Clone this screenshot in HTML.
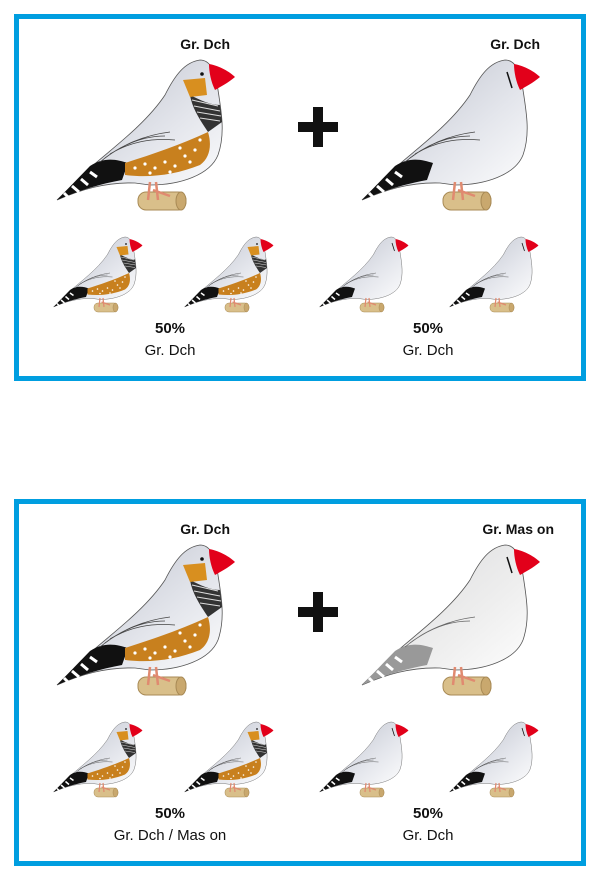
<!DOCTYPE html>
<html><head><meta charset="utf-8"><style>
body{margin:0;background:#fff;width:600px;height:881px;overflow:hidden;font-family:"Liberation Sans",sans-serif}
</style></head><body>
<svg width="600" height="881" viewBox="0 0 600 881" xmlns="http://www.w3.org/2000/svg" font-family="Liberation Sans, sans-serif">
<defs>
<linearGradient id="gb" x1="0" y1="0" x2="1" y2="1"><stop offset="0" stop-color="#b8bcc8"/><stop offset="0.6" stop-color="#e4e6ec"/><stop offset="1" stop-color="#fff"/></linearGradient>
<linearGradient id="gl" x1="0" y1="0" x2="1" y2="1"><stop offset="0" stop-color="#d8d8da"/><stop offset="0.6" stop-color="#eeeeee"/><stop offset="1" stop-color="#fff"/></linearGradient>
<g id="perch">
<rect x="88" y="142" width="48" height="18" rx="8" fill="#d9bf8a" stroke="#a88a55" stroke-width="1"/>
<ellipse cx="131" cy="151" rx="5" ry="9" fill="#c9a86e" stroke="#a88a55"/>
<path d="M100,132 L98,150 M106,132 L108,150 M103,140 L120,146" stroke="#e08a70" stroke-width="2.5" fill="none"/>
</g>
<g id="male">
<path d="M150,10 C135,12 125,25 115,45 C95,75 60,100 40,118 L7,150 C30,140 55,132 85,133 L100,135 C130,135 160,125 168,105 C175,85 172,65 168,40 C165,20 160,10 150,10 Z" fill="url(#gb)" stroke="#555" stroke-width="0.8"/>
<path d="M7,150 L40,116 C55,106 68,110 78,113 L72,130 C50,134 30,140 7,150Z" fill="#111"/>
<path d="M14,143 l6,6 M22,136 l7,6 M31,129 l7,6 M40,122 l7,5" stroke="#fff" stroke-width="3"/>
<path d="M75,113 C100,105 130,95 158,82 C162,95 160,108 150,115 C125,125 100,128 75,125 Z" fill="#c8801e"/>
<g fill="#fff"><circle cx="85" cy="118" r="1.6"/><circle cx="95" cy="114" r="1.6"/><circle cx="105" cy="118" r="1.6"/><circle cx="115" cy="112" r="1.6"/><circle cx="125" cy="116" r="1.6"/><circle cx="135" cy="106" r="1.6"/><circle cx="145" cy="100" r="1.6"/><circle cx="150" cy="90" r="1.6"/><circle cx="140" cy="112" r="1.6"/><circle cx="100" cy="123" r="1.6"/><circle cx="120" cy="122" r="1.6"/><circle cx="130" cy="98" r="1.6"/></g>
<path d="M140,45 C150,50 160,55 170,55 L172,72 L158,82 C150,70 142,58 140,45Z" fill="#333"/>
<path d="M142,50 l26,6 M144,56 l26,5 M147,62 l24,4 M150,68 l20,3" stroke="#ddd" stroke-width="1"/>
<path d="M50,112 C70,95 95,85 120,82 M55,108 C75,93 95,86 115,86 M60,104 C80,92 100,88 125,90" stroke="#444" stroke-width="0.8" fill="none"/>
<path d="M133,30 L155,28 L157,45 L140,47 Z" fill="#d88f1f"/>
<path d="M159,14 C170,16 180,22 185,27 C178,33 170,37 165,40 C161,32 159,22 159,14Z" fill="#e2001a"/>
<circle cx="152" cy="24" r="1.8" fill="#111"/>
<use href="#perch"/>
</g>
<g id="female">
<path d="M150,10 C135,12 125,25 115,45 C95,75 60,100 40,118 L7,150 C30,140 55,132 85,133 L100,135 C130,135 160,125 168,105 C175,85 172,65 168,40 C165,20 160,10 150,10 Z" fill="url(#gb)" stroke="#555" stroke-width="0.8"/>
<path d="M7,150 L40,116 C55,106 68,110 78,113 L72,130 C50,134 30,140 7,150Z" fill="#111"/>
<path d="M14,143 l6,6 M22,136 l7,6 M31,129 l7,6 M40,122 l7,5" stroke="#fff" stroke-width="3"/>
<path d="M50,112 C70,95 95,85 120,82 M55,108 C75,93 95,86 115,86 M60,104 C80,92 100,88 125,90" stroke="#444" stroke-width="0.8" fill="none"/>
<path d="M152,22 L157,38" stroke="#111" stroke-width="1.5"/>
<path d="M159,14 C170,16 180,22 185,27 C178,33 170,37 165,40 C161,32 159,22 159,14Z" fill="#e2001a"/>
<use href="#perch"/>
</g>
<g id="light">
<path d="M150,10 C135,12 125,25 115,45 C95,75 60,100 40,118 L7,150 C30,140 55,132 85,133 L100,135 C130,135 160,125 168,105 C175,85 172,65 168,40 C165,20 160,10 150,10 Z" fill="url(#gl)" stroke="#555" stroke-width="0.8"/>
<path d="M7,150 L40,116 C55,106 68,110 78,113 L72,130 C50,134 30,140 7,150Z" fill="#999"/>
<path d="M14,143 l6,6 M22,136 l7,6 M31,129 l7,6 M40,122 l7,5" stroke="#fff" stroke-width="3"/>
<path d="M50,112 C70,95 95,85 120,82 M55,108 C75,93 95,86 115,86" stroke="#666" stroke-width="0.8" fill="none"/>
<path d="M152,22 L157,38" stroke="#111" stroke-width="1.5"/>
<path d="M159,14 C170,16 180,22 185,27 C178,33 170,37 165,40 C161,32 159,22 159,14Z" fill="#e2001a"/>
<use href="#perch"/>
</g>
<g id="plus"><rect x="-5" y="-20" width="10" height="40" fill="#111"/><rect x="-20" y="-5" width="40" height="10" fill="#111"/></g>
</defs>
<rect x="16.5" y="16.5" width="567" height="362" fill="none" stroke="#009ee0" stroke-width="5"/>
<rect x="16.5" y="501.5" width="567" height="362" fill="none" stroke="#009ee0" stroke-width="5"/>
<g font-weight="bold" font-size="14" fill="#111" text-anchor="end">
<text x="230" y="49">Gr. Dch</text><text x="540" y="49">Gr. Dch</text>
<text x="230" y="534">Gr. Dch</text><text x="554" y="534">Gr. Mas on</text>
</g>
<use href="#male" x="50" y="50"/>
<use href="#female" x="355" y="50"/>
<use href="#plus" x="318" y="127"/>
<use href="#male" transform="translate(50,232) scale(0.5)"/>
<use href="#male" transform="translate(181,232) scale(0.5)"/>
<use href="#female" transform="translate(316,232) scale(0.5)"/>
<use href="#female" transform="translate(446,232) scale(0.5)"/>
<use href="#male" x="50" y="535"/>
<use href="#light" x="355" y="535"/>
<use href="#plus" x="318" y="612"/>
<use href="#male" transform="translate(50,717) scale(0.5)"/>
<use href="#male" transform="translate(181,717) scale(0.5)"/>
<use href="#female" transform="translate(316,717) scale(0.5)"/>
<use href="#female" transform="translate(446,717) scale(0.5)"/>
<g font-size="15" fill="#111" text-anchor="middle">
<text x="170" y="333" font-weight="bold">50%</text><text x="170" y="355">Gr. Dch</text>
<text x="428" y="333" font-weight="bold">50%</text><text x="428" y="355">Gr. Dch</text>
<text x="170" y="818" font-weight="bold">50%</text><text x="170" y="840">Gr. Dch / Mas on</text>
<text x="428" y="818" font-weight="bold">50%</text><text x="428" y="840">Gr. Dch</text>
</g>
</svg>
</body></html>
